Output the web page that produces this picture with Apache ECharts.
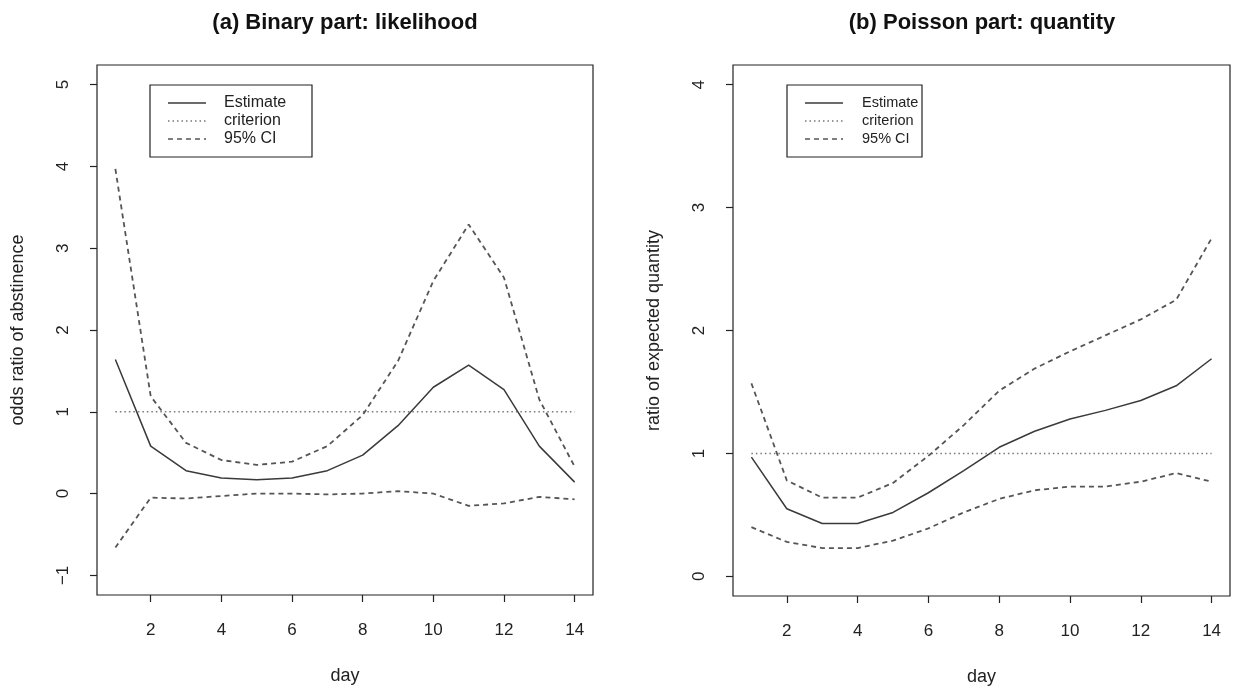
<!DOCTYPE html>
<html>
<head>
<meta charset="utf-8">
<title>likelihood / quantity</title>
<script src="https://cdn.jsdelivr.net/npm/echarts@6/dist/echarts.min.js"></script>
<style>
  html, body { margin: 0; padding: 0; background: #fff; }
  #main { width: 1243px; height: 691px; }
</style>
</head>
<body>
<div id="main"></div>
<script>
// days 1..14
var days = [1, 2, 3, 4, 5, 6, 7, 8, 9, 10, 11, 12, 13, 14];
var dayTicks = [2, 4, 6, 8, 10, 12, 14];

// (a) binary part
var binEstimate = [1.64, 0.58, 0.28, 0.19, 0.17, 0.19, 0.28, 0.47, 0.83, 1.30, 1.57, 1.27, 0.58, 0.14];
var binUpper    = [3.97, 1.19, 0.62, 0.41, 0.35, 0.39, 0.58, 0.96, 1.62, 2.60, 3.29, 2.64, 1.15, 0.33];
var binLower    = [-0.66, -0.05, -0.06, -0.03, 0.0, 0.0, -0.01, 0.0, 0.03, 0.0, -0.15, -0.12, -0.04, -0.07];
var binTicks    = [-1, 0, 1, 2, 3, 4, 5];

// (b) poisson part
var poiEstimate = [0.97, 0.55, 0.43, 0.43, 0.52, 0.68, 0.86, 1.05, 1.18, 1.28, 1.35, 1.43, 1.55, 1.77];
var poiUpper    = [1.57, 0.78, 0.64, 0.64, 0.76, 0.98, 1.23, 1.51, 1.69, 1.83, 1.96, 2.09, 2.25, 2.75];
var poiLower    = [0.40, 0.28, 0.23, 0.23, 0.29, 0.39, 0.52, 0.63, 0.70, 0.73, 0.73, 0.77, 0.84, 0.77];
var poiTicks    = [0, 1, 2, 3, 4];

var criterion = 1;

var FONT = "'Liberation Sans', Arial, sans-serif";

function pairs(ys) {
    return days.map(function (d, i) { return [d, ys[i]]; });
}

function xAxisFor(idx) {
    return {
        gridIndex: idx, type: 'value', min: 0.48, max: 14.52,
        name: 'day', nameLocation: 'middle', nameGap: 72,
        nameTextStyle: { fontFamily: FONT, fontSize: 18, color: '#222' },
        axisLine: { show: false, onZero: false },
        axisTick: { show: true, customValues: dayTicks, length: 7, lineStyle: { color: '#222', width: 1.2 } },
        axisLabel: { customValues: dayTicks, margin: 27, fontFamily: FONT, fontSize: 17, color: '#222' },
        splitLine: { show: false }
    };
}

function yAxisFor(idx, min, max, ticks, name) {
    return {
        gridIndex: idx, type: 'value', min: min, max: max,
        name: name, nameLocation: 'middle', nameGap: 70, nameRotate: 90,
        nameTextStyle: { fontFamily: FONT, fontSize: 18, color: '#222' },
        axisLine: { show: false, onZero: false },
        axisTick: { show: true, customValues: ticks, length: 7, lineStyle: { color: '#222', width: 1.2 } },
        axisLabel: {
            customValues: ticks, rotate: 90, margin: 25, fontFamily: FONT, fontSize: 17, color: '#222',
            formatter: function (v) { return String(v).replace('-', '\u2212'); }
        },
        splitLine: { show: false }
    };
}

function lineSeries(idx, name, ys, kind) {
    var ls = { color: '#3a3a3a', width: 1.5, type: 'solid' };
    if (kind === 'dash') ls = { color: '#555', width: 1.8, type: [5, 4] };
    if (kind === 'dot') ls = { color: '#777', width: 1.5, type: [1.5, 3] };
    return {
        name: name, type: 'line', xAxisIndex: idx, yAxisIndex: idx,
        data: pairs(ys), symbol: 'none', lineStyle: ls, silent: true, animation: false
    };
}

function critSeries(idx) {
    return {
        name: 'criterion', type: 'line', xAxisIndex: idx, yAxisIndex: idx,
        data: [[days[0], criterion], [days[days.length - 1], criterion]],
        symbol: 'none', lineStyle: { color: '#777', width: 1.5, type: [1.5, 3] },
        silent: true, animation: false
    };
}

// legend box drawn by hand, R style
function legendBox(x, y, w, fs, tx) {
    var items = [
        { t: 'Estimate', dash: null, c: '#3a3a3a' },
        { t: 'criterion', dash: [1.5, 3], c: '#777' },
        { t: '95% CI', dash: [5, 4], c: '#555' }
    ];
    var els = [{
        type: 'rect', shape: { x: x, y: y, width: w, height: 72 },
        style: { fill: '#fff', stroke: '#222', lineWidth: 1.2 }
    }];
    items.forEach(function (it, i) {
        var cy = y + 18 + i * 18;
        els.push({
            type: 'line', shape: { x1: x + 18, y1: cy, x2: x + 56, y2: cy },
            style: { stroke: it.c, lineWidth: it.dash ? 1.6 : 1.5, lineDash: it.dash }
        });
        els.push({
            type: 'text', x: x + tx, y: cy,
            style: { text: it.t, fontFamily: FONT, fontSize: fs, fill: '#222', verticalAlign: 'middle' }
        });
    });
    return els;
}

var chart = echarts.init(document.getElementById('main'));
chart.setOption({
    backgroundColor: '#fff',
    animation: false,
    title: [
        { text: '(a) Binary part: likelihood', left: 340, top: 7, textAlign: 'center',
          textStyle: { fontFamily: FONT, fontSize: 22, fontWeight: 'bold', color: '#111' } },
        { text: '(b) Poisson part: quantity', left: 977, top: 7, textAlign: 'center',
          textStyle: { fontFamily: FONT, fontSize: 22, fontWeight: 'bold', color: '#111' } }
    ],
    grid: [
        { left: 97, top: 65, width: 496, height: 530, show: true, borderColor: '#222', borderWidth: 1.2, backgroundColor: 'transparent' },
        { left: 733, top: 65, width: 497, height: 531, show: true, borderColor: '#222', borderWidth: 1.2, backgroundColor: 'transparent' }
    ],
    xAxis: [xAxisFor(0), xAxisFor(1)],
    yAxis: [
        yAxisFor(0, -1.24, 5.24, binTicks, 'odds ratio of abstinence'),
        yAxisFor(1, -0.16, 4.16, poiTicks, 'ratio of expected quantity')
    ],
    series: [
        lineSeries(0, 'Estimate', binEstimate, 'solid'),
        critSeries(0),
        lineSeries(0, '95% CI', binUpper, 'dash'),
        lineSeries(0, '95% CI lower', binLower, 'dash'),
        lineSeries(1, 'Estimate', poiEstimate, 'solid'),
        critSeries(1),
        lineSeries(1, '95% CI', poiUpper, 'dash'),
        lineSeries(1, '95% CI lower', poiLower, 'dash')
    ],
    graphic: legendBox(150, 85, 162, 16, 74).concat(legendBox(787, 85, 135, 14.5, 75))
});
</script>
</body>
</html>
